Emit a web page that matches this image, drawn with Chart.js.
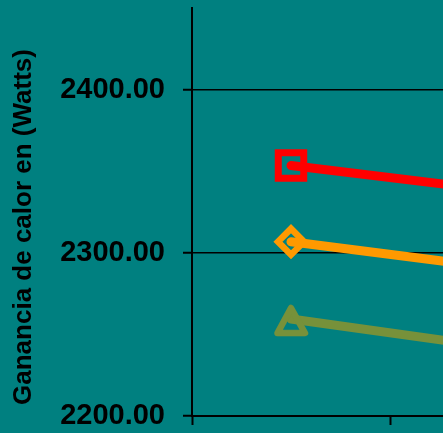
<!DOCTYPE html>
<html>
<head>
<meta charset="utf-8">
<script src="https://cdn.jsdelivr.net/npm/chart.js@4/dist/chart.umd.min.js"></script>
<style>
  html, body { margin: 0; padding: 0; background: #008080; overflow: hidden; }
  #wrap { width: 443px; height: 433px; overflow: hidden; position: relative; }
  canvas { display: block; }
</style>
</head>
<body>
<div id="wrap"><canvas id="c" width="600" height="433"></canvas></div>
<script>
// Categories and series (heat gain in watts)
const categories = ['1', '2'];
const serieRoja = [2353.5, 2338.7];
const serieNaranja = [2306.8, 2291.3];
const serieOliva = [2259.4, 2242.5];
const yTicks = [2200, 2300, 2400];
const yTitle = 'Ganancia de calor en (Watts)';

const FONT = '"Liberation Sans", Arial, sans-serif';

// Hollow triangle marker, centred on its bounding box
function triangleMarker(color) {
  const c = document.createElement('canvas');
  c.width = 40; c.height = 40;
  const g = c.getContext('2d');
  g.strokeStyle = color;
  g.lineWidth = 6.5;
  g.lineJoin = 'round';
  g.beginPath();
  g.moveTo(20, 9);
  g.lineTo(34, 34);
  g.lineTo(6.5, 34);
  g.closePath();
  g.stroke();
  return c;
}

// Rotated axis title on the left
const yTitlePlugin = {
  id: 'yTitle',
  afterDraw(chart) {
    const ctx = chart.ctx;
    ctx.save();
    ctx.translate(30.5, 227);
    ctx.rotate(-Math.PI / 2);
    ctx.font = 'bold 26px ' + FONT;
    ctx.fillStyle = '#000';
    ctx.textAlign = 'center';
    ctx.textBaseline = 'alphabetic';
    ctx.fillText(yTitle, 0, 0);
    ctx.restore();
  }
};

new Chart(document.getElementById('c'), {
  type: 'line',
  data: {
    labels: categories,
    datasets: [
      {
        label: 'Serie 1',
        data: serieRoja,
        borderColor: '#FF0000',
        borderWidth: 9,
        borderCapStyle: 'round',
        pointStyle: 'rect',
        pointRadius: 18,
        pointBorderWidth: 7,
        pointBorderColor: '#FF0000',
        pointBackgroundColor: 'rgba(0,0,0,0)'
      },
      {
        label: 'Serie 2',
        data: serieNaranja,
        borderColor: '#FF9900',
        borderWidth: 9,
        borderCapStyle: 'round',
        pointStyle: 'rectRot',
        pointRadius: 13,
        pointBorderWidth: 6.5,
        pointBorderColor: '#FF9900',
        pointBackgroundColor: 'rgba(0,0,0,0)'
      },
      {
        label: 'Serie 3',
        data: serieOliva,
        borderColor: '#77913A',
        borderWidth: 9,
        borderCapStyle: 'round',
        pointStyle: triangleMarker('#77913A'),
        pointRadius: 18
      }
    ]
  },
  options: {
    responsive: false,
    animation: false,
    devicePixelRatio: 1,
    layout: { autoPadding: false, padding: { top: 8, right: 12, bottom: 0, left: 0 } },
    plugins: { legend: { display: false }, tooltip: { enabled: false } },
    elements: { line: { tension: 0 } },
    scales: {
      x: {
        type: 'category',
        offset: true,
        grid: { offset: true, drawOnChartArea: false, color: '#000', tickLength: 9, tickWidth: 2 },
        border: { color: '#000', width: 2 },
        ticks: { display: false },
        afterFit(s) { s.height = 17; s.paddingLeft = 0; s.paddingRight = 0; }
      },
      y: {
        min: 2200,
        max: 2450,
        afterBuildTicks(s) { s.ticks = yTicks.map(v => ({ value: v })); },
        afterFit(s) { s.width = 192; s.paddingTop = 0; s.paddingBottom = 0; },
        grid: { color: '#000', lineWidth: 1.5, tickLength: 9, tickWidth: 2 },
        border: { color: '#000', width: 2 },
        ticks: {
          padding: 18,
          color: '#000',
          font: { family: FONT, size: 29, weight: 'bold' },
          callback: v => Number(v).toFixed(2)
        }
      }
    }
  },
  plugins: [yTitlePlugin]
});
</script>
</body>
</html>
